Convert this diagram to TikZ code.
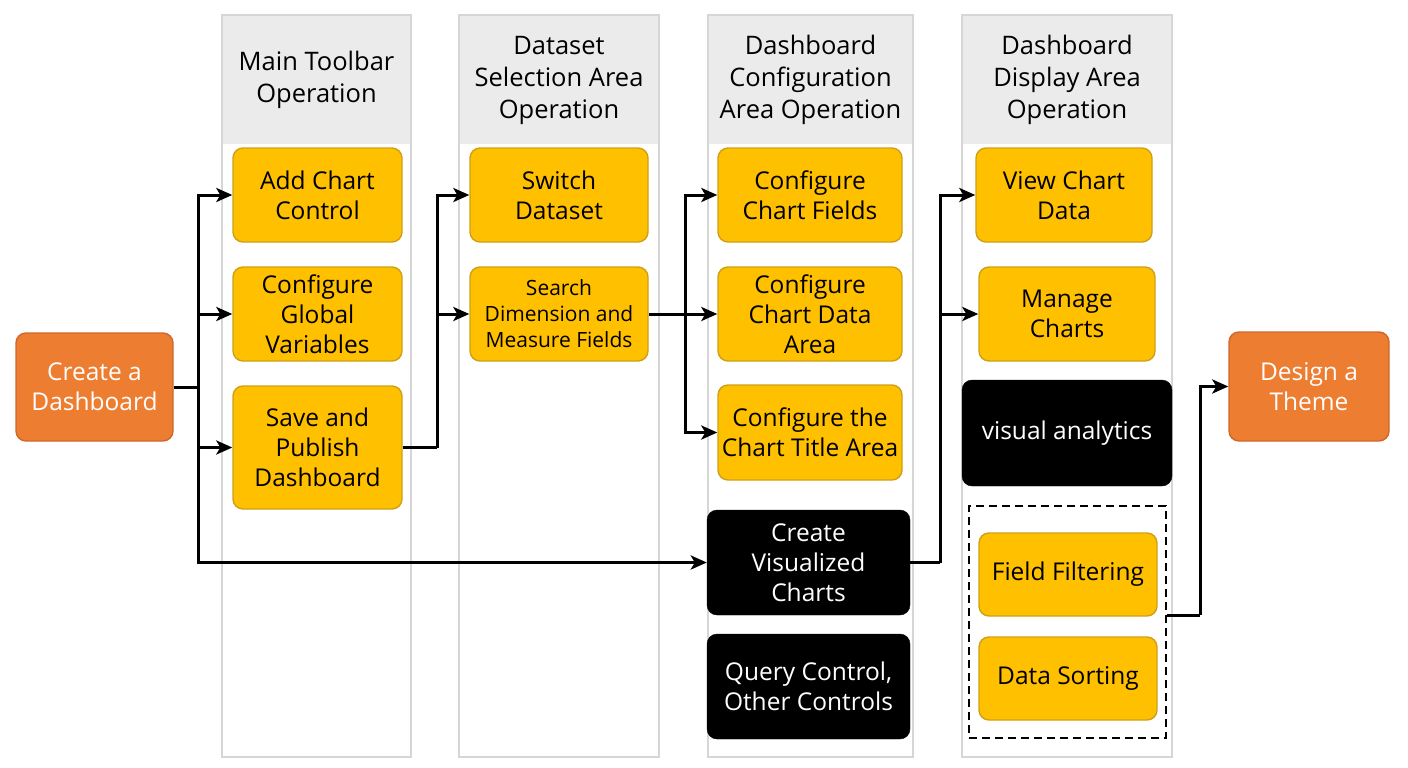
\documentclass[tikz,border=0pt]{standalone}
\usepackage{fontspec}
\setmainfont{Open Sans}
\usetikzlibrary{arrows.meta}
\definecolor{orng}{HTML}{ED7D31}
\definecolor{orngd}{HTML}{D0672A}
\definecolor{ylw}{HTML}{FFC000}
\definecolor{ylwd}{HTML}{CFA015}
\definecolor{hdr}{HTML}{EBEBEB}
\definecolor{laneb}{HTML}{D6D6D6}
\begin{document}
\begin{tikzpicture}[x=1pt,y=-1pt,
  lanebox/.style={draw=laneb, line width=1.5pt, fill=white},
  hdrfill/.style={fill=hdr},
  hdrtext/.style={align=center, inner sep=0pt, font=\fontsize{25.5}{32}\selectfont},
  box/.style={rounded corners=10pt, align=center, inner sep=0pt, font=\fontsize{24.5}{30}\selectfont},
  ybox/.style={box, fill=ylw, draw=ylwd, line width=1.4pt},
  obox/.style={box, fill=orng, draw=orngd, line width=1.4pt, text=white},
  kbox/.style={box, fill=black, draw=black, text=white},
  conn/.style={line width=3pt, draw=black},
  arr/.style={conn, -{Stealth[length=16pt,width=14pt,inset=4pt]}},
  grpbox/.style={draw=black, line width=2.4pt, dash pattern=on 8pt off 5pt}
]
\useasboundingbox (0,0) rectangle (1408,768);
\fill[white] (0,0) rectangle (1408,768);

% lanes
\draw[lanebox] (222,15) rectangle (411,757);
\fill[hdrfill] (222.8,15.8) rectangle (410.2,144);
\draw[lanebox] (459,15) rectangle (659,757);
\fill[hdrfill] (459.8,15.8) rectangle (658.2,144);
\draw[lanebox] (708,15) rectangle (913,757);
\fill[hdrfill] (708.8,15.8) rectangle (912.2,144);
\draw[lanebox] (962,15) rectangle (1172,757);
\fill[hdrfill] (962.8,15.8) rectangle (1171.2,144);

\node[hdrtext] (h1) at (316.5,80) {Main Toolbar\\Operation};
\node[hdrtext] (h2) at (559,80) {Dataset\\Selection Area\\Operation};
\node[hdrtext] (h3) at (810.5,80) {Dashboard\\Configuration\\Area Operation};
\node[hdrtext] (h4) at (1067,80) {Dashboard\\Display Area\\Operation};

% nodes
\node[obox, minimum width=157pt, minimum height=108pt] (create) at (94.5,387) {Create a\\Dashboard};
\node[obox, minimum width=160pt, minimum height=109pt] (design) at (1309,386.5) {Design a\\Theme};

\node[ybox, minimum width=169pt, minimum height=94pt] (add) at (317.5,195) {Add Chart\\Control};
\node[ybox, minimum width=169pt, minimum height=94pt] (global) at (317.5,314) {Configure\\Global\\Variables};
\node[ybox, minimum width=169pt, minimum height=123pt] (save) at (317.5,447.5) {Save and\\Publish\\Dashboard};

\node[ybox, minimum width=178pt, minimum height=94pt] (switch) at (559,195) {Switch\\Dataset};
\node[ybox, minimum width=178pt, minimum height=94pt, font=\fontsize{21}{26}\selectfont] (search) at (559,314) {Search\\Dimension and\\Measure Fields};

\node[ybox, minimum width=184pt, minimum height=94pt] (fields) at (810,195) {Configure\\Chart Fields};
\node[ybox, minimum width=184pt, minimum height=94pt] (darea) at (810,314) {Configure\\Chart Data\\Area};
\node[ybox, minimum width=184pt, minimum height=95pt] (title) at (810,432.5) {Configure the\\Chart Title Area};
\node[kbox, minimum width=203pt, minimum height=105pt] (cvc) at (808.5,562.5) {Create\\Visualized\\Charts};
\node[kbox, minimum width=203pt, minimum height=105pt] (query) at (808.5,686.5) {Query Control,\\Other Controls};

\node[ybox, minimum width=176pt, minimum height=94pt] (view) at (1064,195) {View Chart\\Data};
\node[ybox, minimum width=176pt, minimum height=94pt] (manage) at (1067,314) {Manage\\Charts};
\node[kbox, minimum width=210pt, minimum height=106pt] (visual) at (1067,433) {visual analytics};
\node[grpbox, minimum width=197pt, minimum height=232pt, inner sep=0pt] (grp) at (1067.5,622) {};
\node[ybox, minimum width=178pt, minimum height=83pt] (filter) at (1068,574.5) {Field Filtering};
\node[ybox, minimum width=178pt, minimum height=83pt] (sort) at (1068,678.5) {Data Sorting};

% connectors
\coordinate (t1) at (198,387);
\draw[conn] (create.east) -- (t1);
\draw[arr] (t1) |- (add.west);
\draw[arr] (t1) |- (global.west);
\draw[arr] (t1) |- (save.west);
\draw[arr] (t1) |- (cvc.west);

\coordinate (t2) at (437,447.5);
\draw[conn] (save.east) -- (t2);
\draw[arr] (t2) |- (switch.west);
\draw[arr] (t2) |- (search.west);

\coordinate (t3) at (685,314);
\draw[conn] (search.east) -- (t3);
\draw[arr] (t3) |- (fields.west);
\draw[arr] (t3) -- (darea.west);
\draw[arr] (t3) |- (title.west);

\coordinate (t4) at (940,562.5);
\draw[conn] (cvc.east) -- (t4);
\draw[arr] (t4) |- (view.west);
\draw[arr] (t4) |- (manage.west);

\coordinate (t5) at (1200,615);
\draw[conn] (grp.east |- t5) -- (t5);
\draw[arr] (t5) |- (design.west);
\end{tikzpicture}
\end{document}
